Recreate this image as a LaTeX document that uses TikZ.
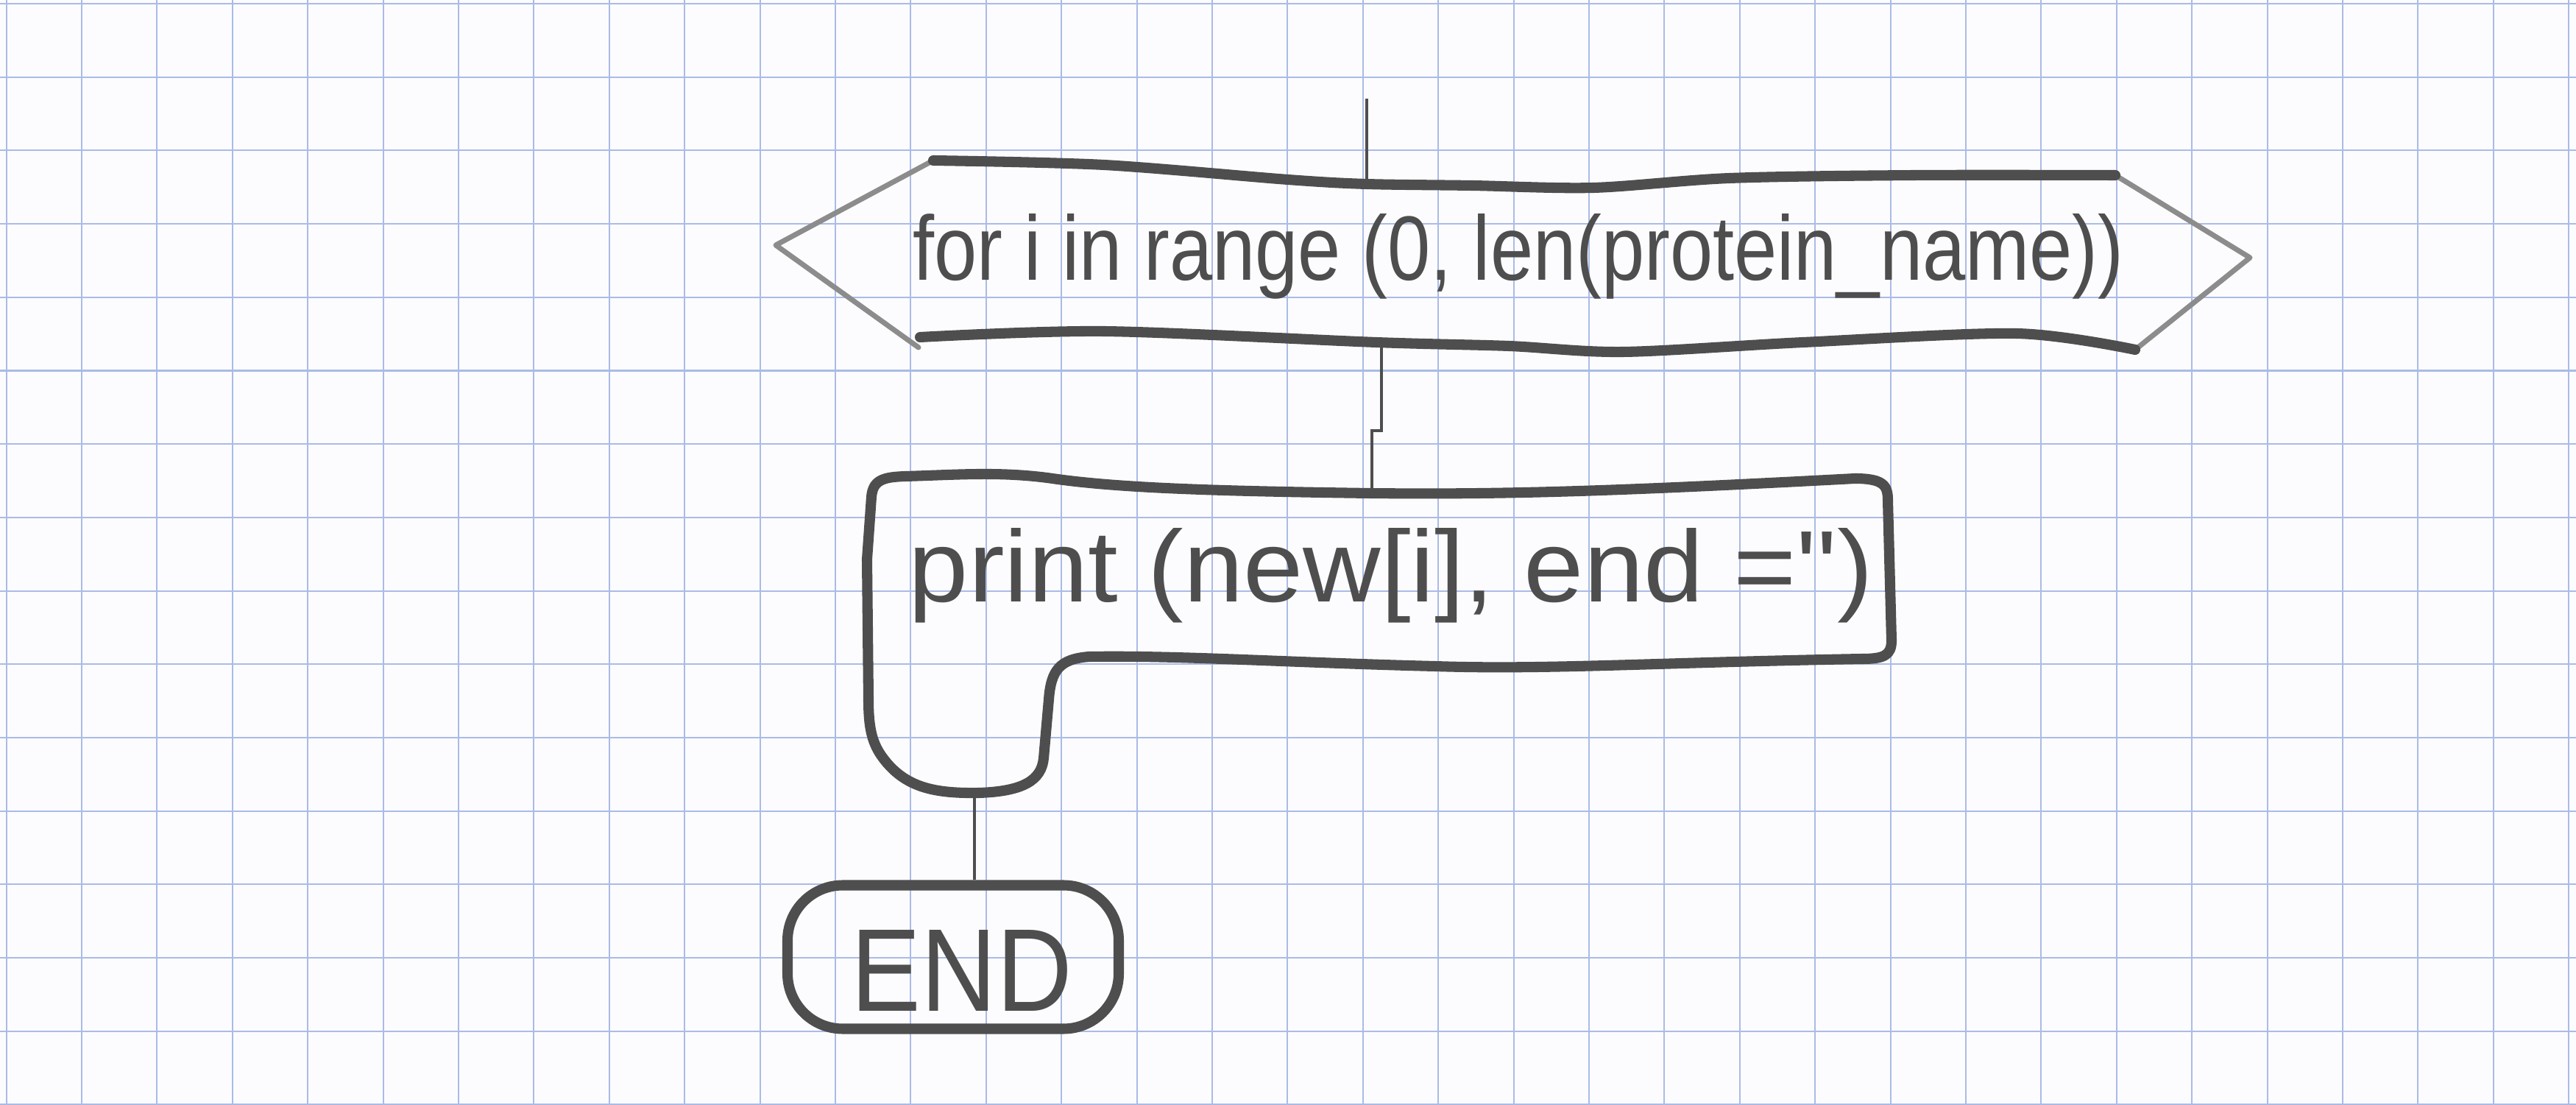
\documentclass[tikz,border=0pt]{standalone}
\usepackage{fontspec}
\setmainfont{Liberation Sans}
\usetikzlibrary{calc}
\definecolor{paper}{HTML}{FCFCFE}
\definecolor{gridblue}{HTML}{AABBE6}
\definecolor{pencil}{HTML}{4E4E4E}
\definecolor{pencillight}{HTML}{8C8C8C}
\tikzset{
  thickpencil/.style={draw=pencil, line width=4pt, line join=round, line cap=round},
  thinpencil/.style={draw=pencillight, line width=2pt, line join=round, line cap=round},
  link/.style={draw=pencil, line width=1.4pt},
  hand/.style={text=pencil, inner sep=0pt, anchor=base},
  gridline/.style={draw=gridblue, line width=0.6pt},
  endstyle/.style={thickpencil, rounded corners=0.75cm, minimum width=4.5cm, minimum height=1.95cm, inner sep=0pt}
}
\begin{document}
\begin{tikzpicture}
\useasboundingbox (0,0) rectangle (35,15);
\fill[paper] (0,0) rectangle (35,15);
% grid paper
\foreach \k in {-1,...,33} \draw[gridline] ({1.11+1.024*\k},0) -- ({1.11+1.024*\k},15);
\foreach \k in {0,...,15} \draw[gridline] (0,{14.95-0.997*\k}) -- (35,{14.95-0.997*\k});

% loop (hexagon)
\coordinate (hL) at (10.54,11.67);
\coordinate (hTL) at (12.68,12.82);
\coordinate (hTR) at (28.74,12.62);
\coordinate (hR) at (30.57,11.50);
\coordinate (hBR) at (29.01,10.25);
\coordinate (hBL) at (12.48,10.28);
\draw[thinpencil] (hTL) -- (hL) -- (hBL);
\draw[thinpencil] (hTR) -- (hR) -- (hBR);
\draw[thickpencil] plot[smooth, tension=0.5] coordinates {(12.68,12.82) (15.0,12.76) (17.5,12.56) (18.57,12.50) (20.0,12.48) (21.65,12.45) (23.5,12.58) (26,12.62) (28.74,12.62)};
\draw[thickpencil] plot[smooth, tension=0.5] coordinates {(12.50,10.42) (15.0,10.50) (18.7,10.35) (20.5,10.30) (22.05,10.22) (24.5,10.35) (27.4,10.47) (29.01,10.25)};
\node[hand] (looptext) at (20.63,11.20) {\resizebox{16.45cm}{0.9cm}{for i in range (0, len(protein\_name))}};

% connectors
\coordinate (inTop) at (18.57,13.66);
\coordinate (loopTop) at (18.57,12.50);
\draw[link] (inTop) -- (loopTop);
\coordinate (loopBot) at (18.77,10.34);
\coordinate (printTop) at (18.64,8.30);
\coordinate (kink) at (18.77,9.15);
\draw[link] (loopBot) -- (kink) -| (printTop);

% print box with tab
\draw[thickpencil] (11.78,7.40) -- (11.84,8.25)
  .. controls (11.86,8.48) and (12.0,8.52) .. (12.3,8.53)
  .. controls (13.0,8.55) and (13.6,8.60) .. (14.3,8.50)
  .. controls (15.2,8.37) and (16.5,8.33) .. (18.62,8.30)
  .. controls (20.5,8.28) and (22.0,8.33) .. (25.2,8.50)
  .. controls (25.6,8.50) and (25.65,8.40) .. (25.65,8.20)
  -- (25.70,6.30)
  .. controls (25.70,6.10) and (25.60,6.05) .. (25.30,6.05)
  .. controls (22.5,6.00) and (21.0,5.90) .. (19.5,5.95)
  .. controls (17.5,6.00) and (16.0,6.10) .. (14.8,6.08)
  .. controls (14.4,6.05) and (14.28,5.90) .. (14.25,5.50)
  -- (14.18,4.70)
  .. controls (14.15,4.40) and (13.90,4.25) .. (13.30,4.23)
  .. controls (12.70,4.22) and (12.30,4.30) .. (12.00,4.70)
  .. controls (11.85,4.90) and (11.80,5.10) .. (11.80,5.50)
  -- cycle;
\node[hand] (printtext) at (18.90,6.83) {\resizebox{13.1cm}{1.0cm}{print (new[i], end =\textquotesingle\textquotesingle)}};

% end terminal
\node[endstyle] (endbox) at (12.95,2.0) {};
\node[hand] (endtext) at (13.07,1.27) {\resizebox{3.0cm}{1.1cm}{END}};
\coordinate (tabBot) at (13.24,4.23);
\draw[link] (tabBot) -- (tabBot |- endbox.north);
\end{tikzpicture}
\end{document}
